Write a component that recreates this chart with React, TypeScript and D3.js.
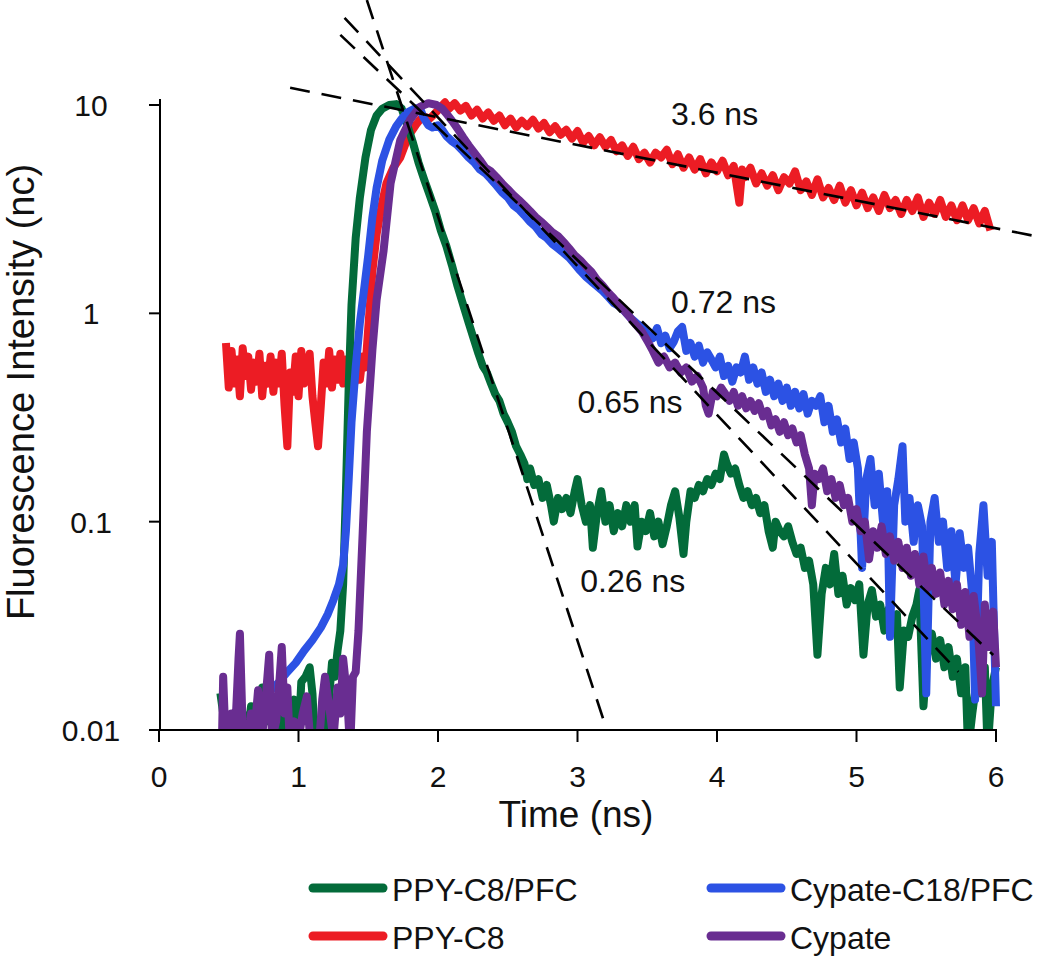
import React from 'react';
import * as d3 from 'd3';

// ---- axis ticks ----
const xTicks = [0, 1, 2, 3, 4, 5, 6];
const yTicks = [10, 1, 0.1, 0.01];
const yTickLabels = ['10', '1', '0.1', '0.01'];

// ---- PPY-C8 (red) ----
const redT = [0.48,0.50,0.52,0.54,0.56,0.58,0.60,0.62,0.64,0.66,0.68,0.70,0.72,0.74,0.76,0.78,0.80,0.82,0.84,0.86,0.88,0.90,0.92,0.94,0.96,0.98,1.00,1.02,1.04,1.06,1.08,1.10,1.12,1.14,1.16,1.18,1.20,1.22,1.24,1.26,1.28,1.30,1.32,1.34,1.36,1.38,1.40,1.42,1.44,1.46,1.48,
  1.50,1.53,1.56,1.60,1.63,1.68,1.73,1.77,1.80,1.84,1.87,1.90,1.94,1.97,2.01,2.05,2.08,
  2.12,2.16,2.20,2.24,2.28,2.32,2.36,2.40,2.44,2.48,2.52,2.56,2.60,2.64,2.68,2.72,2.76,2.80,2.84,2.88,2.92,2.96,3.00,3.04,3.08,3.12,3.16,3.20,3.24,3.28,3.32,3.36,3.40,3.44,3.48,3.52,3.56,3.60,3.64,3.68,3.72,3.76,3.80,3.84,3.88,3.92,3.96,4.00,4.04,4.08,4.12,4.16,4.18,4.20,4.24,4.28,4.32,4.36,4.40,4.44,4.48,4.52,4.56,4.60,4.64,4.68,4.72,4.76,4.80,4.84,4.88,4.92,4.96,5.00,5.04,5.08,5.12,5.16,5.20,5.24,5.28,5.32,5.36,5.40,5.44,5.48,5.52,5.56,5.60,5.64,5.68,5.72,5.76,5.80,5.84,5.88,5.92,5.96,6.00];
const redV = [0.72,0.44,0.66,0.46,0.60,0.40,0.68,0.50,0.62,0.43,0.58,0.47,0.64,0.40,0.56,0.46,0.62,0.42,0.58,0.46,0.64,0.36,0.23,0.52,0.42,0.62,0.40,0.66,0.46,0.55,0.64,0.40,0.30,0.23,0.36,0.58,0.46,0.66,0.44,0.60,0.48,0.64,0.46,0.60,0.48,0.62,0.46,0.58,0.48,0.62,0.55,
  0.85,1.6,2.4,3.4,4.2,5.0,5.6,6.6,7.3,8.0,8.5,8.8,8.6,9.0,9.6,10.3,9.6,
  10.2,9.4,9.9,8.9,9.5,8.6,9.2,8.4,8.9,8.0,8.6,7.8,8.4,7.9,8.5,7.7,8.2,7.4,7.9,7.2,7.6,6.9,7.5,6.6,7.1,6.4,7.0,6.3,6.8,6.0,6.4,5.7,6.3,5.5,5.9,5.3,5.9,5.6,6.1,5.2,5.8,5.0,5.6,4.9,5.5,4.7,5.3,4.8,5.4,4.6,5.1,3.4,4.9,4.5,5.0,4.2,4.7,4.1,4.6,3.9,4.5,4.2,4.8,3.9,4.3,3.7,4.4,3.6,4.0,3.5,4.1,3.4,3.9,3.3,3.8,3.2,3.6,3.1,3.7,3.2,3.5,3.0,3.5,3.1,3.6,2.9,3.4,3.0,3.5,2.9,3.3,2.8,3.3,2.8,3.2,2.7,3.1,2.5];

// ---- PPY-C8/PFC (green) ----
const greenT = [0.44,0.46,0.48,0.52,0.55,0.57,0.60,0.63,0.66,0.69,0.72,0.74,0.77,0.79,0.82,0.85,0.88,0.91,0.94,0.97,1.00,1.02,1.05,1.08,1.10,1.12,1.15,1.18,1.21,1.24,1.26,1.28,1.30,1.32,1.34,1.36,1.38,1.41,1.44,1.48,1.52,1.56,1.60,1.65,1.70,1.74,1.78,1.82,1.86,1.90,1.94,1.98,2.02,2.06,2.10,2.14,2.18,2.22,2.26,2.29,2.32,2.35,2.38,2.41,2.44,2.47,2.50,2.53,2.56,2.59,2.62,2.64,2.66,2.69,2.72,2.75,2.78,2.81,2.83,2.86,2.89,2.92,2.95,2.98,3.00,3.03,3.06,3.09,3.11,3.14,3.17,3.20,3.23,3.26,3.29,3.32,3.35,3.38,3.41,3.43,3.46,3.49,3.52,3.55,3.58,3.61,3.64,3.67,3.70,3.73,3.76,3.78,3.81,3.84,3.87,3.90,3.93,3.96,3.99,4.02,4.05,4.07,4.10,4.13,4.16,4.19,4.22,4.25,4.28,4.31,4.34,4.37,4.40,4.42,4.45,4.48,4.51,4.54,4.57,4.60,4.63,4.66,4.69,4.72,4.75,4.78,4.81,4.84,4.87,4.90,4.93,4.96,4.99,5.02,5.05,5.08,5.11,5.14,5.17,5.20,5.23,5.26,5.29,5.31,5.34,5.37,5.40,5.43,5.45,5.48,5.51,5.54,5.57,5.60,5.63,5.66,5.69,5.72,5.75,5.78,5.80,5.83,5.86,5.89,5.92,5.94,5.97,6.00];
const greenV = [0.015,0.012,0.008,0.008,0.011,0.008,0.012,0.009,0.013,0.008,0.011,0.016,0.016,0.011,0.013,0.009,0.012,0.008,0.011,0.014,0.009,0.017,0.018,0.02,0.015,0.008,0.007,0.008,0.012,0.021,0.018,0.024,0.03,0.05,0.14,0.45,1.1,2.3,3.6,5.6,7.6,8.9,9.6,10.0,10.1,9.6,8.0,6.6,5.3,4.4,3.7,3.1,2.5,2.1,1.7,1.35,1.1,0.9,0.74,0.64,0.56,0.52,0.46,0.41,0.38,0.33,0.30,0.27,0.23,0.21,0.19,0.16,0.18,0.15,0.16,0.13,0.15,0.12,0.10,0.13,0.115,0.13,0.11,0.14,0.16,0.12,0.10,0.12,0.075,0.11,0.14,0.10,0.12,0.09,0.11,0.095,0.12,0.10,0.12,0.076,0.10,0.09,0.11,0.085,0.10,0.078,0.095,0.12,0.14,0.105,0.07,0.10,0.14,0.13,0.15,0.14,0.16,0.15,0.17,0.16,0.21,0.19,0.17,0.18,0.15,0.13,0.14,0.12,0.13,0.11,0.12,0.09,0.075,0.10,0.09,0.085,0.095,0.08,0.07,0.075,0.06,0.065,0.05,0.023,0.045,0.06,0.05,0.07,0.045,0.055,0.04,0.048,0.042,0.05,0.023,0.04,0.047,0.035,0.04,0.03,0.038,0.032,0.036,0.016,0.03,0.028,0.035,0.04,0.047,0.013,0.025,0.029,0.022,0.027,0.02,0.025,0.018,0.022,0.015,0.02,0.008,0.012,0.017,0.015,0.02,0.008,0.016,0.02];

// ---- Cypate-C18/PFC (blue) ----
const blueT = [0.74,0.80,0.86,0.92,0.98,1.04,1.10,1.16,1.21,1.25,1.29,1.32,1.34,1.36,1.38,1.41,1.44,1.47,1.50,1.53,1.56,1.60,1.65,1.70,1.74,1.78,1.83,1.87,1.90,1.93,1.96,2.00,2.03,2.06,2.10,2.14,2.18,2.22,2.26,2.30,2.34,2.38,2.42,2.46,2.50,2.54,2.58,2.62,2.66,2.70,2.74,2.78,2.82,2.86,2.90,2.94,2.98,3.02,3.06,3.10,3.14,3.18,3.22,3.26,3.30,3.34,3.38,3.42,3.46,3.50,3.54,3.57,3.60,3.63,3.66,3.69,3.72,3.75,3.78,3.81,3.84,3.87,3.90,3.93,3.96,3.99,4.02,4.05,4.08,4.11,4.14,4.17,4.20,4.23,4.26,4.29,4.32,4.35,4.38,4.41,4.44,4.47,4.50,4.53,4.56,4.59,4.62,4.65,4.68,4.71,4.74,4.77,4.80,4.83,4.86,4.89,4.92,4.95,4.98,5.01,5.04,5.07,5.10,5.13,5.16,5.19,5.22,5.24,5.27,5.30,5.33,5.35,5.38,5.41,5.44,5.47,5.50,5.53,5.56,5.59,5.62,5.65,5.68,5.71,5.74,5.77,5.80,5.83,5.85,5.88,5.91,5.94,5.97,6.00];
const blueV = [0.0135,0.0155,0.017,0.019,0.021,0.024,0.027,0.031,0.036,0.042,0.05,0.062,0.09,0.16,0.3,0.55,0.9,1.3,1.9,2.9,4.0,5.4,6.8,7.9,8.6,9.2,9.6,9.7,8.6,8.0,7.8,8.0,7.6,7.1,6.7,6.4,6.0,5.6,5.3,4.9,4.7,4.4,4.1,3.8,3.6,3.3,3.15,2.95,2.75,2.6,2.4,2.3,2.15,2.05,1.95,1.85,1.72,1.6,1.5,1.42,1.35,1.28,1.2,1.12,1.08,1.02,0.95,0.9,0.86,0.80,0.76,0.85,0.72,0.78,0.68,0.73,0.82,0.86,0.66,0.72,0.62,0.70,0.58,0.65,0.60,0.55,0.62,0.50,0.56,0.47,0.55,0.52,0.62,0.48,0.55,0.46,0.52,0.42,0.48,0.40,0.46,0.38,0.44,0.36,0.42,0.35,0.41,0.33,0.38,0.36,0.40,0.30,0.36,0.27,0.31,0.24,0.28,0.2,0.24,0.18,0.06,0.16,0.2,0.12,0.17,0.1,0.14,0.028,0.12,0.16,0.23,0.1,0.13,0.08,0.12,0.095,0.015,0.1,0.13,0.08,0.1,0.06,0.09,0.05,0.088,0.06,0.075,0.045,0.014,0.07,0.12,0.055,0.08,0.013];

// ---- Cypate (purple) ----
const purpleT = [0.45,0.46,0.48,0.52,0.54,0.57,0.58,0.60,0.63,0.66,0.68,0.71,0.73,0.76,0.79,0.81,0.84,0.86,0.88,0.90,0.92,0.94,0.97,1.00,1.03,1.06,1.09,1.12,1.15,1.17,1.19,1.22,1.25,1.28,1.30,1.32,1.33,1.35,1.37,1.39,1.41,1.43,1.46,1.49,1.53,1.56,1.61,1.66,1.73,1.80,1.87,1.93,1.99,2.03,2.06,2.10,2.14,2.18,2.22,2.26,2.30,2.34,2.38,2.42,2.46,2.50,2.54,2.58,2.62,2.66,2.70,2.74,2.78,2.82,2.86,2.90,2.94,2.98,3.02,3.06,3.10,3.14,3.18,3.22,3.26,3.30,3.34,3.38,3.42,3.46,3.50,3.54,3.58,3.62,3.66,3.70,3.74,3.78,3.82,3.86,3.90,3.92,3.94,3.97,4.00,4.03,4.06,4.09,4.12,4.15,4.18,4.21,4.24,4.27,4.30,4.33,4.36,4.39,4.42,4.45,4.48,4.51,4.54,4.57,4.60,4.63,4.66,4.68,4.70,4.73,4.76,4.79,4.82,4.85,4.88,4.91,4.94,4.97,5.00,5.03,5.06,5.09,5.12,5.15,5.18,5.21,5.24,5.27,5.30,5.33,5.36,5.39,5.42,5.45,5.48,5.51,5.54,5.57,5.60,5.63,5.66,5.69,5.72,5.75,5.78,5.81,5.84,5.87,5.90,5.92,5.95,5.98,6.00];
const purpleV = [0.008,0.018,0.008,0.012,0.008,0.022,0.029,0.01,0.008,0.012,0.009,0.0155,0.008,0.013,0.023,0.009,0.011,0.016,0.025,0.012,0.016,0.008,0.011,0.009,0.012,0.0145,0.008,0.007,0.009,0.014,0.018,0.013,0.009,0.016,0.012,0.022,0.019,0.014,0.008,0.018,0.019,0.03,0.088,0.27,0.67,1.16,2.0,4.2,6.8,8.5,9.8,10.2,10.0,9.6,9.1,8.4,7.7,7.0,6.4,5.9,5.45,5.0,4.8,4.5,4.2,3.95,3.7,3.5,3.3,3.1,2.9,2.75,2.6,2.45,2.35,2.2,2.05,1.9,1.8,1.68,1.58,1.45,1.36,1.26,1.18,1.1,1.02,0.95,0.88,0.82,0.74,0.66,0.58,0.62,0.55,0.58,0.52,0.55,0.47,0.50,0.44,0.36,0.33,0.42,0.40,0.44,0.41,0.38,0.42,0.36,0.40,0.35,0.38,0.34,0.37,0.32,0.34,0.29,0.31,0.27,0.30,0.26,0.28,0.24,0.26,0.21,0.18,0.12,0.17,0.16,0.18,0.14,0.16,0.13,0.15,0.12,0.13,0.10,0.115,0.09,0.10,0.066,0.09,0.075,0.095,0.07,0.085,0.065,0.08,0.06,0.075,0.055,0.07,0.05,0.068,0.048,0.06,0.045,0.057,0.04,0.052,0.038,0.05,0.032,0.046,0.028,0.044,0.03,0.015,0.04,0.025,0.037,0.02];

// ---- single-exponential fits (dashed lines) ----
const fitLabels = ['3.6 ns', '0.26 ns', '0.72 ns', '0.65 ns'];
const fitT0 = [0.94, 1.49, 1.30, 1.33];
const fitV0 = [12.1, 31.9, 21.7, 26.2];
const fitT1 = [6.32, 3.20, 5.98, 5.73];
const fitV1 = [2.32, 0.0105, 0.0229, 0.019];
const labelT = [3.67, 3.02, 3.67, 3.0];
const labelV = [8.0, 0.046, 1.0, 0.332];

// ---- legend ----
const legendLabels = ['PPY-C8/PFC', 'Cypate-C18/PFC', 'PPY-C8', 'Cypate'];
const legendColors = ['#036b3a', '#2c52e4', '#ec1c24', '#692d91'];

const series = [
  { name: 'PPY-C8', t: redT, v: redV, color: '#ec1c24' },
  { name: 'PPY-C8/PFC', t: greenT, v: greenV, color: '#036b3a' },
  { name: 'Cypate-C18/PFC', t: blueT, v: blueV, color: '#2c52e4' },
  { name: 'Cypate', t: purpleT, v: purpleV, color: '#692d91' },
];

const FONT = '"Liberation Sans", Arial, Helvetica, sans-serif';

export default function App() {
  const x = d3.scaleLinear().domain([0, 6]).range([159, 996]);
  const y = d3.scaleLog().domain([0.01, 10]).range([730, 105]);
  const line = d3
    .line<[number, number]>()
    .x((d) => x(d[0]))
    .y((d) => y(d[1]));

  return (
    <svg
      width={1050}
      height={959}
      style={{ position: 'absolute', left: 0, top: 0, background: '#fff' }}
      fontFamily={FONT}
    >
      <defs>
        <clipPath id="plotClip">
          <rect x={150} y={0} width={850} height={731} />
        </clipPath>
      </defs>

      {/* traces */}
      <g clipPath="url(#plotClip)">
        {series.map((s) => (
          <path
            key={s.name}
            d={line(s.t.map((t, i) => [t, s.v[i]] as [number, number])) || ''}
            fill="none"
            stroke={s.color}
            strokeWidth={8}
            strokeLinejoin="round"
          />
        ))}
      </g>

      {/* fit lines */}
      {fitLabels.map((lab, i) => (
        <line
          key={lab}
          x1={x(fitT0[i])}
          y1={y(fitV0[i])}
          x2={x(fitT1[i])}
          y2={y(fitV1[i])}
          stroke="#000"
          strokeWidth={2.6}
          strokeDasharray="20,12"
        />
      ))}
      {fitLabels.map((lab, i) => (
        <text key={'l' + lab} x={x(labelT[i])} y={y(labelV[i])} fontSize={32} fill="#111">
          {lab}
        </text>
      ))}

      {/* axes */}
      <line x1={160} y1={99} x2={160} y2={731} stroke="#000" strokeWidth={2} />
      <line x1={159} y1={730} x2={997} y2={730} stroke="#000" strokeWidth={2} />
      {yTicks.map((t) => (
        <line key={'yt' + t} x1={149} x2={160} y1={y(t)} y2={y(t)} stroke="#000" strokeWidth={2} />
      ))}
      {xTicks.map((t) => (
        <line key={'xt' + t} x1={x(t)} x2={x(t)} y1={730} y2={742} stroke="#000" strokeWidth={2} />
      ))}
      {yTicks.map((t, i) => (
        <text key={'yl' + t} x={91} y={y(t) + 11} fontSize={30} textAnchor="middle" fill="#111">
          {yTickLabels[i]}
        </text>
      ))}
      {xTicks.map((t) => (
        <text key={'xl' + t} x={x(t)} y={787} fontSize={30} textAnchor="middle" fill="#111">
          {t}
        </text>
      ))}

      {/* axis titles */}
      <text x={576} y={827} fontSize={37} textAnchor="middle" fill="#111">
        Time (ns)
      </text>
      <text
        transform="translate(34,392) rotate(-90)"
        fontSize={38}
        textAnchor="middle"
        fill="#111"
      >
        Fluorescence Intensity (nc)
      </text>

      {/* legend */}
      {legendLabels.map((lab, i) => {
        const col = i % 2;
        const row = Math.floor(i / 2);
        const lx = col === 0 ? 309 : 707;
        const ly = row === 0 ? 888 : 936;
        return (
          <g key={'lg' + lab}>
            <line
              x1={lx + 4}
              x2={lx + 74}
              y1={ly}
              y2={ly}
              stroke={legendColors[i]}
              strokeWidth={9}
              strokeLinecap="round"
            />
            <text x={lx + 83} y={ly + 13} fontSize={32} fill="#111">
              {lab}
            </text>
          </g>
        );
      })}
    </svg>
  );
}
